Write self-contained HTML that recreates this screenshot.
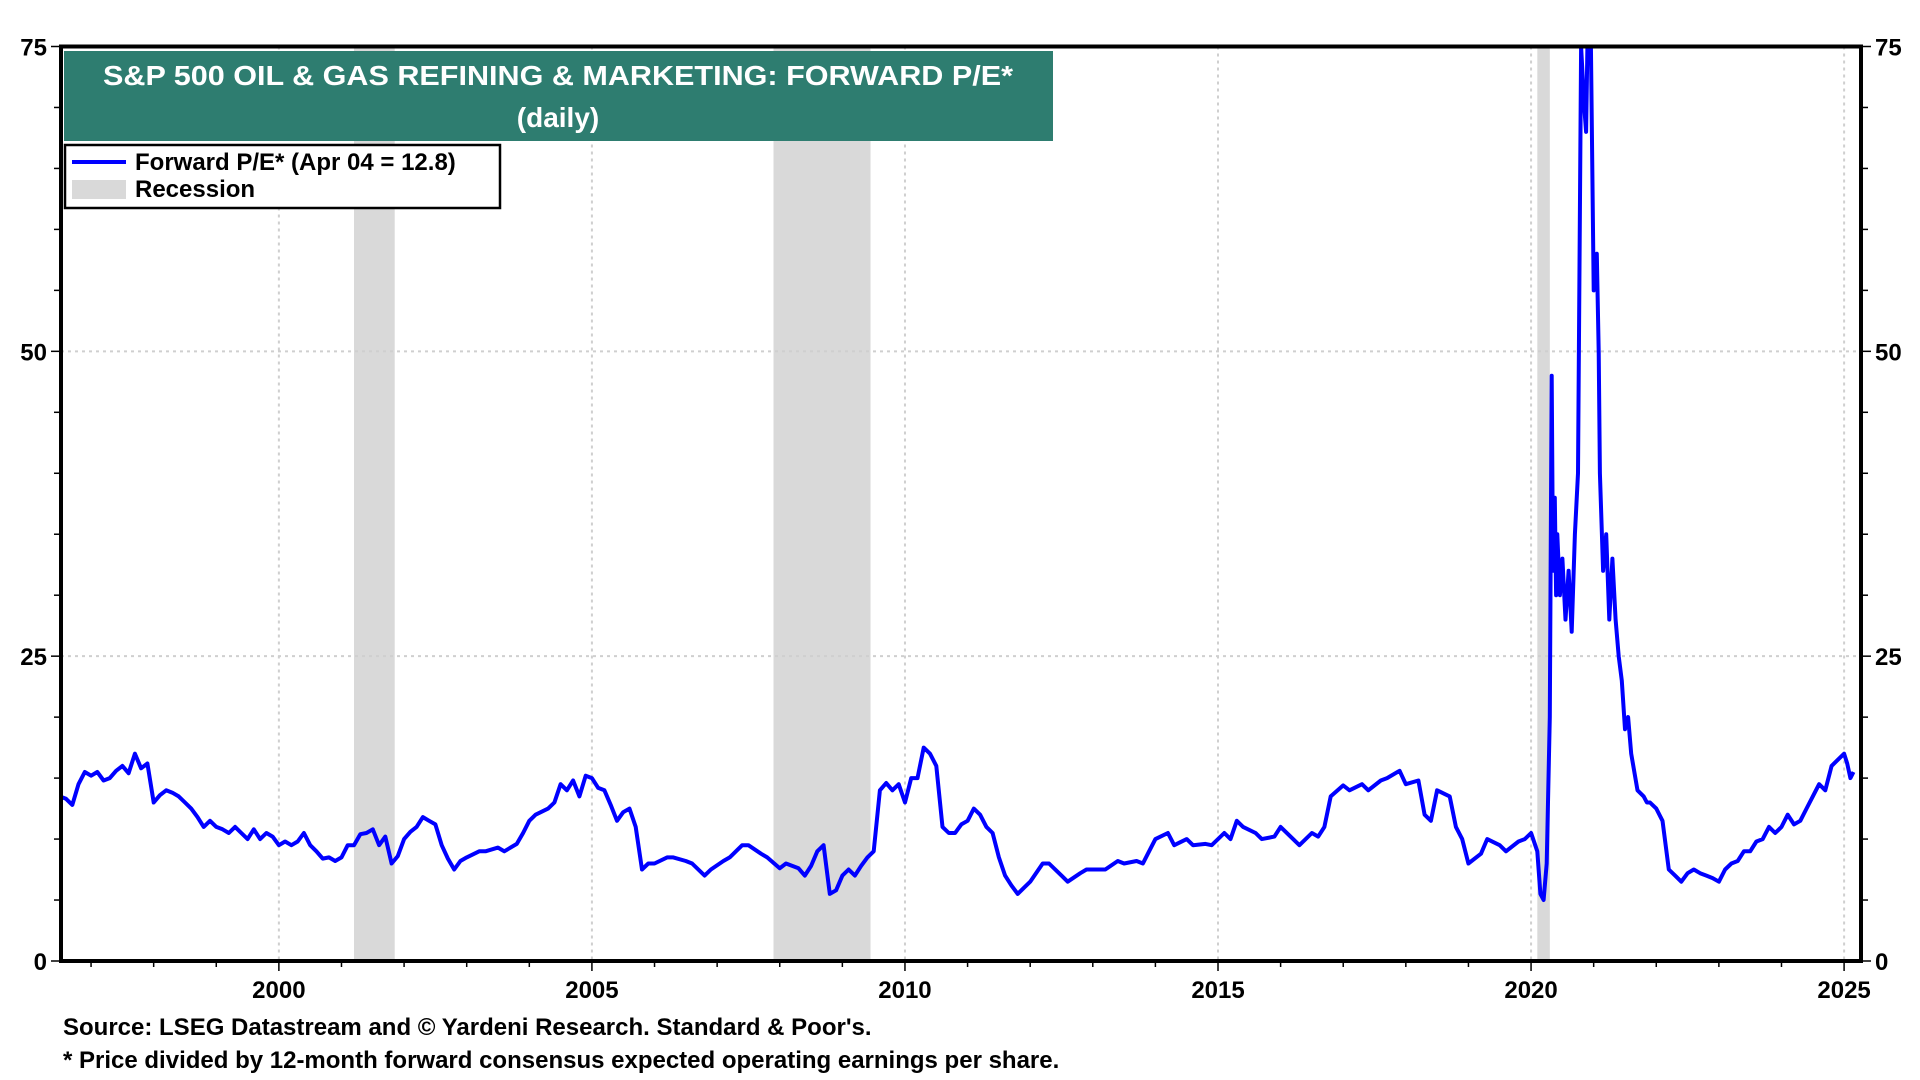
<!DOCTYPE html>
<html><head><meta charset="utf-8">
<style>
html,body{margin:0;padding:0;background:#fff;width:1920px;height:1080px;overflow:hidden;font-family:"Liberation Sans",Arial,sans-serif;}
svg{display:block}
text{font-family:"Liberation Sans",Arial,sans-serif;font-weight:bold;}
</style></head>
<body>
<svg id="chart" width="1920" height="1080" xmlns="http://www.w3.org/2000/svg">
<defs><clipPath id="plotclip"><rect x="61" y="46.5" width="1800" height="914.5"/></clipPath></defs>
<g id="recessions" clip-path="url(#plotclip)"></g>
<g id="grid"></g>
<g id="series" clip-path="url(#plotclip)"></g>
<g id="axes"></g>
<g>
<rect x="64" y="51" width="989" height="90" fill="#2e7d70"/>
<text x="558" y="85" fill="#fff" font-size="28" text-anchor="middle" textLength="910" lengthAdjust="spacingAndGlyphs">S&amp;P 500 OIL &amp; GAS REFINING &amp; MARKETING: FORWARD P/E*</text>
<text x="558" y="127" fill="#fff" font-size="28" text-anchor="middle">(daily)</text>
</g>
<g>
<rect x="65" y="145" width="435" height="63" fill="#fff" stroke="#000" stroke-width="2.5"/>
<line x1="72" y1="162" x2="126" y2="162" stroke="#0000ff" stroke-width="4"/>
<text x="135" y="170" font-size="24">Forward P/E* (Apr 04 = 12.8)</text>
<rect x="72" y="180" width="54" height="19" fill="#d9d9d9"/>
<text x="135" y="197" font-size="24">Recession</text>
</g>
<text x="63" y="1035" font-size="24">Source: LSEG Datastream and © Yardeni Research. Standard &amp; Poor's.</text>
<text x="63" y="1068" font-size="24">* Price divided by 12-month forward consensus expected operating earnings per share.</text>
</svg>
<script>
const years=[1996.5,1996.6,1996.7,1996.8,1996.9,1997.0,1997.1,1997.2,1997.3,1997.4,1997.5,1997.6,1997.7,1997.8,1997.9,1998.0,1998.1,1998.2,1998.3,1998.4,1998.5,1998.6,1998.7,1998.8,1998.9,1999.0,1999.1,1999.2,1999.3,1999.4,1999.5,1999.6,1999.7,1999.8,1999.9,2000.0,2000.1,2000.2,2000.3,2000.4,2000.5,2000.6,2000.7,2000.8,2000.9,2001.0,2001.1,2001.2,2001.3,2001.4,2001.5,2001.6,2001.7,2001.8,2001.9,2002.0,2002.1,2002.2,2002.3,2002.4,2002.5,2002.6,2002.7,2002.8,2002.9,2003.0,2003.2,2003.3,2003.5,2003.6,2003.8,2003.9,2004.0,2004.1,2004.3,2004.4,2004.5,2004.6,2004.7,2004.8,2004.9,2005.0,2005.1,2005.2,2005.3,2005.4,2005.5,2005.6,2005.7,2005.8,2005.9,2006.0,2006.2,2006.3,2006.5,2006.6,2006.8,2006.9,2007.1,2007.2,2007.4,2007.5,2007.7,2007.8,2008.0,2008.1,2008.3,2008.4,2008.5,2008.6,2008.7,2008.8,2008.9,2009.0,2009.1,2009.2,2009.3,2009.4,2009.5,2009.6,2009.7,2009.8,2009.9,2010.0,2010.1,2010.2,2010.3,2010.4,2010.5,2010.6,2010.7,2010.8,2010.9,2011.0,2011.1,2011.2,2011.3,2011.4,2011.5,2011.6,2011.7,2011.8,2011.9,2012.0,2012.2,2012.3,2012.5,2012.6,2012.8,2012.9,2013.1,2013.2,2013.4,2013.5,2013.7,2013.8,2013.9,2014.0,2014.2,2014.3,2014.5,2014.6,2014.8,2014.9,2015.1,2015.2,2015.3,2015.4,2015.6,2015.7,2015.9,2016.0,2016.2,2016.3,2016.5,2016.6,2016.7,2016.8,2017.0,2017.1,2017.3,2017.4,2017.6,2017.7,2017.9,2018.0,2018.2,2018.3,2018.4,2018.5,2018.7,2018.8,2018.9,2019.0,2019.2,2019.3,2019.5,2019.6,2019.8,2019.9,2020.0,2020.1,2020.15,2020.2,2020.25,2020.3,2020.33,2020.35,2020.38,2020.4,2020.42,2020.46,2020.5,2020.55,2020.6,2020.65,2020.7,2020.75,2020.8,2020.85,2020.88,2020.9,2020.95,2021.0,2021.05,2021.08,2021.1,2021.15,2021.2,2021.25,2021.3,2021.35,2021.4,2021.45,2021.5,2021.55,2021.6,2021.7,2021.8,2021.85,2021.9,2022.0,2022.1,2022.2,2022.3,2022.4,2022.5,2022.6,2022.7,2022.8,2022.9,2023.0,2023.1,2023.2,2023.3,2023.4,2023.5,2023.6,2023.7,2023.8,2023.9,2024.0,2024.1,2024.2,2024.3,2024.4,2024.5,2024.6,2024.7,2024.8,2024.9,2025.0,2025.05,2025.1,2025.15,2025.2,2025.26];
const peValues=[13.5,13.3,12.8,14.5,15.5,15.2,15.5,14.8,15,15.6,16,15.4,17,15.8,16.2,13,13.6,14,13.8,13.5,13,12.5,11.8,11,11.5,11,10.8,10.5,11,10.5,10,10.8,10,10.5,10.2,9.5,9.8,9.5,9.8,10.5,9.5,9,8.4,8.5,8.2,8.5,9.5,9.5,10.4,10.5,10.8,9.5,10.2,8,8.6,10,10.6,11,11.8,11.5,11.2,9.5,8.4,7.5,8.2,8.5,9,9,9.3,9,9.6,10.5,11.5,12,12.5,13,14.5,14,14.8,13.5,15.2,15,14.2,14,12.8,11.5,12.2,12.5,11,7.5,8,8,8.5,8.5,8.2,8,7,7.5,8.2,8.5,9.5,9.5,8.8,8.5,7.6,8,7.6,7,7.8,9,9.5,5.5,5.8,7,7.5,7,7.8,8.5,9,14,14.6,14,14.5,13,15,15,17.5,17,16,11,10.5,10.5,11.2,11.5,12.5,12,11,10.5,8.5,7,6.2,5.5,6,6.5,8,8,7,6.5,7.2,7.5,7.5,7.5,8.2,8,8.2,8,9,10,10.5,9.5,10,9.5,9.6,9.5,10.5,10,11.5,11,10.5,10,10.2,11,10,9.5,10.5,10.2,11,13.5,14.4,14,14.5,14,14.8,15,15.6,14.5,14.8,12,11.5,14,13.5,11,10,8,8.8,10,9.5,9,9.8,10,10.5,9,5.5,5,8,20,48,32,38,30,35,30,33,28,32,27,35,40,75,70,68,75,78,55,58,50,40,32,35,28,33,28,25,23,19,20,17,14,13.5,13,13,12.5,11.5,7.5,7,6.5,7.2,7.5,7.2,7,6.8,6.5,7.5,8,8.2,9,9,9.8,10,11,10.5,11,12,11.2,11.5,12.5,13.5,14.5,14,16,16.5,17,16.2,15,15.5];
const recessions=[[2001.2,2001.85],[2007.9,2009.45],[2020.1,2020.3]];
const yMajor=[0,25,50,75];
const xLabels=[2000,2005,2010,2015,2020,2025];

const L=61,R=1861,T=46.5,B=961,X0=1996.52,X1=2025.27,Ymax=75;
const xs=v=>L+(v-X0)/(X1-X0)*(R-L);
const ys=v=>B-v/Ymax*(B-T);
const NS='http://www.w3.org/2000/svg';
function mk(tag,attrs,parent){const e=document.createElementNS(NS,tag);for(const k in attrs)e.setAttribute(k,attrs[k]);parent.appendChild(e);return e;}
const gR=document.getElementById('recessions'),gG=document.getElementById('grid'),gS=document.getElementById('series'),gA=document.getElementById('axes');
recessions.forEach(r=>{const e=mk('rect',{x:xs(r[0]),y:T,width:xs(r[1])-xs(r[0]),height:B-T,fill:'#d9d9d9'},gR);

});
xLabels.forEach(y=>{const e=mk('line',{x1:xs(y),x2:xs(y),y1:T,y2:B,stroke:'#cfcfcf','stroke-width':2,'stroke-dasharray':'3 4'},gG);

});
yMajor.slice(1,3).forEach(v=>{const e=mk('line',{x1:L,x2:R,y1:ys(v),y2:ys(v),stroke:'#cfcfcf','stroke-width':2,'stroke-dasharray':'3 4'},gG);

});
let d='';years.forEach((y,i)=>{d+=(i?'L':'M')+xs(y).toFixed(1)+','+ys(peValues[i]).toFixed(1);});
const p=mk('path',{d:d,fill:'none',stroke:'#0000ff','stroke-width':4,'stroke-linejoin':'round'},gS);


const fr=mk('rect',{x:L,y:T,width:R-L,height:B-T,fill:'none',stroke:'#000','stroke-width':4},gA);


for(let v=0;v<=75;v+=5){const len=v%25===0?10:7;
mk('line',{x1:L-len,x2:L,y1:ys(v),y2:ys(v),stroke:'#000','stroke-width':1.5},gA);
mk('line',{x1:R,x2:R+len,y1:ys(v),y2:ys(v),stroke:'#000','stroke-width':1.5},gA);}
yMajor.forEach(v=>{const a=mk('text',{x:L-14,y:ys(v)+9,'font-size':24,'text-anchor':'end'},gA);a.textContent=v;


const b=mk('text',{x:R+14,y:ys(v)+9,'font-size':24},gA);b.textContent=v;

});
for(let y=1997;y<=2025;y++){const len=y%5===0?10:6;mk('line',{x1:xs(y),x2:xs(y),y1:B,y2:B+len,stroke:'#000','stroke-width':1.5},gA);}
xLabels.forEach(y=>{const t=mk('text',{x:xs(y),y:B+37,'font-size':24,'text-anchor':'middle'},gA);t.textContent=y;

});
</script>
</body></html>
